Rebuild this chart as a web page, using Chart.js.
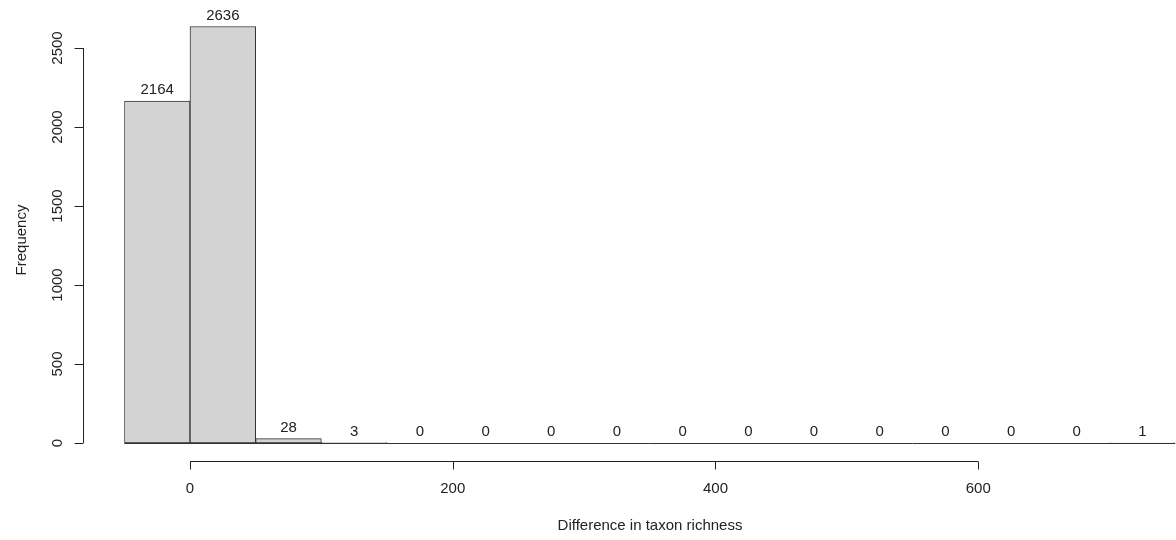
<!DOCTYPE html>
<html>
<head>
<meta charset="utf-8">
<script src="https://cdn.jsdelivr.net/npm/chart.js@4.4.1/dist/chart.umd.min.js"></script>
<style>
html,body{margin:0;padding:0;background:#fff;}
#wrap{width:1176px;height:540px;}
</style>
</head>
<body>
<div id="wrap"><canvas id="c" width="1176" height="540"></canvas></div>
<script>
// Histogram bins (50-wide bins from -50 to 750)
const binStarts = [-50, 0, 50, 100, 150, 200, 250, 300, 350, 400, 450, 500, 550, 600, 650, 700];
const counts    = [2164, 2636, 28, 3, 0, 0, 0, 0, 0, 0, 0, 0, 0, 0, 0, 1];
const binWidth = 50;
const xTicks = [0, 200, 400, 600];
const yTicks = [0, 500, 1000, 1500, 2000, 2500];
const xTitle = 'Difference in taxon richness';
const yTitle = 'Frequency';

const FONT = '"Liberation Sans", Arial, sans-serif';
const TXT = '#222';

const rAxes = {
  id: 'rAxes',
  afterDatasetsDraw(chart) {
    const ctx = chart.ctx;
    const xs = chart.scales.x, ys = chart.scales.y;
    const y0 = ys.getPixelForValue(0);
    ctx.save();
    // baseline along bins
    ctx.strokeStyle = '#333';
    ctx.lineWidth = 1;
    ctx.beginPath();
    ctx.moveTo(xs.getPixelForValue(binStarts[0]), Math.round(y0) + 0.5);
    ctx.lineTo(xs.getPixelForValue(binStarts[binStarts.length - 1] + binWidth), Math.round(y0) + 0.5);
    ctx.stroke();

    // count labels
    ctx.fillStyle = TXT;
    ctx.font = '15px ' + FONT;
    ctx.textAlign = 'center';
    ctx.textBaseline = 'middle';
    binStarts.forEach((s, i) => {
      const cx = xs.getPixelForValue(s + binWidth / 2);
      const ty = ys.getPixelForValue(counts[i]);
      ctx.fillText(String(counts[i]), cx, ty - 11);
    });

    // y axis
    const yAxX = 83.5;
    ctx.strokeStyle = '#222';
    ctx.beginPath();
    ctx.moveTo(yAxX, ys.getPixelForValue(yTicks[0]));
    ctx.lineTo(yAxX, ys.getPixelForValue(yTicks[yTicks.length - 1]));
    yTicks.forEach(v => {
      const py = Math.round(ys.getPixelForValue(v)) + 0.5;
      ctx.moveTo(yAxX, py);
      ctx.lineTo(yAxX - 9, py);
    });
    ctx.stroke();
    ctx.font = '15px ' + FONT;
    yTicks.forEach(v => {
      const py = ys.getPixelForValue(v);
      ctx.save();
      ctx.translate(58, py);
      ctx.rotate(-Math.PI / 2);
      ctx.textAlign = 'center';
      ctx.textBaseline = 'middle';
      ctx.fillText(String(v), 0, 0);
      ctx.restore();
    });

    // x axis
    const xAxY = 461.5;
    ctx.beginPath();
    ctx.moveTo(xs.getPixelForValue(xTicks[0]), xAxY);
    ctx.lineTo(xs.getPixelForValue(xTicks[xTicks.length - 1]), xAxY);
    xTicks.forEach(v => {
      const px = Math.round(xs.getPixelForValue(v)) + 0.5;
      ctx.moveTo(px, xAxY);
      ctx.lineTo(px, xAxY + 8);
    });
    ctx.stroke();
    ctx.textAlign = 'center';
    ctx.textBaseline = 'middle';
    xTicks.forEach(v => {
      ctx.fillText(String(v), xs.getPixelForValue(v), 489);
    });

    // titles
    ctx.font = '15px ' + FONT;
    ctx.fillText(xTitle, 650, 526);
    ctx.save();
    ctx.translate(22, 240);
    ctx.rotate(-Math.PI / 2);
    ctx.fillText(yTitle, 0, 0);
    ctx.restore();
    ctx.restore();
  }
};

new Chart(document.getElementById('c'), {
  type: 'bar',
  data: {
    datasets: [{
      data: binStarts.map((s, i) => ({ x: s + binWidth / 2, y: counts[i] })),
      backgroundColor: '#d3d3d3',
      borderColor: '#333',
      borderWidth: 1,
      borderSkipped: false,
      barPercentage: 1,
      categoryPercentage: 1,
      grouped: false
    }]
  },
  options: {
    responsive: false,
    animation: false,
    devicePixelRatio: 1,
    layout: { padding: { left: 124.3, right: 0.7, top: 16.4, bottom: 97 } },
    plugins: { legend: { display: false }, tooltip: { enabled: false } },
    scales: {
      x: { type: 'linear', min: -50, max: 750, offset: false, display: false },
      y: { type: 'linear', min: 0, max: 2700, display: false }
    }
  },
  plugins: [rAxes]
});
</script>
</body>
</html>
